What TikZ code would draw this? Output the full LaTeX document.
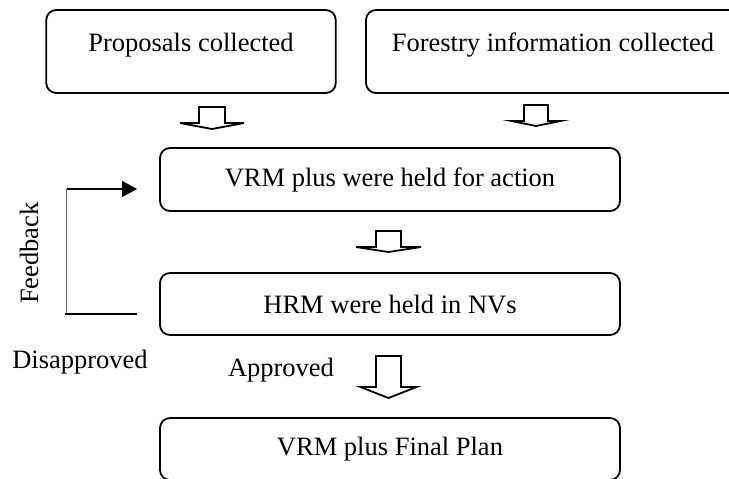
\documentclass[tikz,border=0pt]{standalone}
\usepackage{fontspec}
\setmainfont{Liberation Serif}
\usetikzlibrary{arrows.meta}
\usetikzlibrary{calc}

\tikzset{
    stepbox/.style = {draw, rounded corners = 5pt, line width = 0.9pt,
                      inner sep = 0pt, font = \fontsize{13.25}{16}\selectfont},
    toptext/.style = {text height = 9pt, text depth = 9pt},
    plain/.style   = {inner sep = 0pt, font = \fontsize{13.25}{16}\selectfont},
    blockarrow/.style = {draw, line width = 0.9pt, fill = white, line join = miter},
}

\begin{document}
\begin{tikzpicture}[x = 0.5pt, y = -0.5pt, black]

\useasboundingbox[clip] (0,0) rectangle (729,478);

% boxes
\node[stepbox, toptext, minimum width = 144.75pt, minimum height = 41.5pt] (prop)   at (191,51.5) {Proposals collected};
\node[stepbox, toptext, minimum width = 187pt,    minimum height = 41.5pt] (forest) at (553,51.5) {Forestry information collected};
\node[stepbox, minimum width = 230pt, minimum height = 31.5pt] (action) at (390,179.5) {VRM plus were held for action};
\node[stepbox, minimum width = 230pt, minimum height = 31pt]   (hrm)    at (390,304)   {HRM were held in NVs};
\node[stepbox, minimum width = 230pt, minimum height = 31pt]   (final)  at (390,449)   {VRM plus Final Plan};

% hollow arrows
\foreach \XC/\YTOP/\YHEAD/\YTIP/\WS/\WH in {
                        212/107/123/129/13/32,
                        536/105/121/126/12/24.5,
                        388.5/231/247/252/12.5/32.5,
                        388.5/356/387/398/12.5/28}{
    \draw[blockarrow] (\XC-\WS,\YTOP) -- (\XC+\WS,\YTOP) -- (\XC+\WS,\YHEAD)
        -- (\XC+\WH,\YHEAD) -- (\XC,\YTIP) -- (\XC-\WH,\YHEAD)
        -- (\XC-\WS,\YHEAD) -- cycle;
    };

% feedback loop
\coordinate (fbtop)   at (66.5,189);
\coordinate (fbend)   at (137,189);
\coordinate (fbbot)   at (66.5,314);
\coordinate (fbstart) at (137,314);

\draw[black!60, line width = 0.5pt] (fbtop) -- (fbbot);
\draw[line width = 0.8pt] (fbstart) -- ($(fbbot)+(-2,0)$);
\draw[line width = 0.8pt, -{Triangle[length = 7.5pt, width = 8pt]}] (fbtop) -- (fbend);

\node[plain, rotate = 90] (feedback) at (29,253) {Feedback};
\node[plain] (disapp) at (80,362)  {Disapproved};
\node[plain] (app)    at (281,370) {Approved};

\end{tikzpicture}
\end{document}
